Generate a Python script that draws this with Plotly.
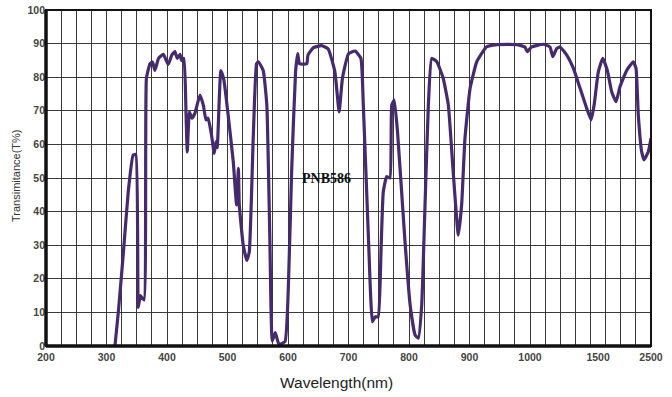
import numpy as np
import plotly.graph_objects as go

# ---- data ----
wavelength_nm = [314, 320, 328, 336, 344, 348.5, 352.5, 356, 362, 366, 372, 376, 380, 386, 394,
                 402, 408, 413, 417, 421.5, 424, 428, 431.5, 433.5, 437, 441, 446, 454.5, 460,
                 464.5, 468, 474, 478, 481, 483, 489, 494, 501, 509.5, 515, 518, 519.5, 526, 532,
                 536, 542.5, 548, 551, 559, 565, 570, 574, 579, 585, 595, 600.5, 606, 612.5, 616,
                 619, 631, 633, 642, 655.5, 666.5, 677.5, 684.5, 690, 700, 711, 720.5, 724.5, 733,
                 739.5, 744, 749, 754, 757.5, 763, 768.5, 771.5, 775.5, 781, 793, 802, 810, 815.5,
                 821, 826.5, 832, 837.5, 846, 856.5, 865, 873, 881.5, 887, 892.5, 901, 912, 928,
                 945, 978, 991.5, 995.5, 1012, 1098, 1147, 1167, 1196, 1220, 1270, 1319, 1368,
                 1417, 1449, 1471, 1505, 1589, 1675, 1757, 1840, 1915, 2040, 2166, 2217, 2260,
                 2324, 2368, 2449, 2500]
transmittance = [0, 11, 28, 46, 56.8, 57, 11.5, 15, 13.7, 79.7, 84, 84.5, 82, 85.6, 86.8,
                 83.8, 86.6, 87.6, 85.6, 86.8, 85, 85.6, 68.8, 57.8, 69.7, 67.8, 69.2, 74.7, 71.7,
                 67.3, 67.8, 62.3, 57.3, 60.8, 59, 82, 79.2, 68.8, 54.9, 42, 52.9, 42, 30, 25.5,
                 28, 61.8, 84, 84.6, 82, 71.7, 32, 1.5, 4, 0.5, 1.3, 17, 51.9, 81.6, 87,
                 84, 84, 86.6, 88.8, 89.4, 88.4, 81.6, 69.7, 79.7, 87, 87.8, 85.6, 71.7, 32,
                 7.2, 8.7, 8.7, 30, 45.9, 50.4, 50, 71.7, 73.2, 63.8, 32, 12, 3.3, 2.3,
                 12.2, 42, 71.7, 85.6, 84.6, 79.7, 71.7, 51.9, 33, 42, 61.8, 76.7, 84.6, 89,
                 89.7, 89.7, 89, 87.6, 89, 89.8, 89, 86.1, 88.5, 89, 86.6, 82.6, 76.7,
                 70.7, 67.3, 71.7, 81.6, 85.6, 82, 75.7, 72.7, 77.2, 82, 84.6, 82.6, 68.8,
                 57.8, 55.4, 57.8, 61.8]

x_tick_values_nm = [200, 300, 400, 500, 600, 700, 800, 900, 1000, 1500, 2500]
x_tick_labels = ["200", "300", "400", "500", "600", "700", "800", "900", "1000", "1500", "2500"]
y_tick_values = list(range(0, 101, 10))

# piecewise-linear wavelength scale of the printed chart (grid-cell units)
scale_nm = [200, 1000, 1500, 2500]
scale_pos = [0, 32, 36.5, 40]


def to_axis(nm):
    return np.interp(nm, scale_nm, scale_pos)


fig = go.Figure()
fig.add_trace(go.Scatter(
    x=to_axis(wavelength_nm), y=transmittance, mode="lines",
    line=dict(color="#452a6e", width=3.2, shape="spline", smoothing=0.4),
    hoverinfo="skip", showlegend=False, xaxis="x2"))
# invisible trace to keep the grid axis active
fig.add_trace(go.Scatter(x=[0, 40], y=[0, 0], mode="lines", line=dict(width=0),
                         hoverinfo="skip", showlegend=False, opacity=0))

gridc = "#3a3a3a"
tickfont = dict(family="Liberation Sans, Arial", size=10.5, color="#444", weight="bold")

fig.update_layout(
    width=672, height=397,
    margin=dict(l=46, r=21, t=10, b=51, autoexpand=False),
    paper_bgcolor="white", plot_bgcolor="white",
    xaxis=dict(range=[0, 40], tickvals=list(range(41)), showticklabels=False,
               showgrid=True, gridcolor=gridc, gridwidth=1, zeroline=False, ticks="",
               automargin=False),
    xaxis2=dict(range=[0, 40], overlaying="x", anchor="y", side="bottom",
                tickvals=list(to_axis(x_tick_values_nm)), ticktext=x_tick_labels,
                showgrid=False, zeroline=False, ticks="", tickfont=tickfont,
                automargin=False, ticklabelstandoff=3),
    yaxis=dict(range=[0, 100], tickvals=y_tick_values, showgrid=True, gridcolor=gridc,
               gridwidth=1.3, zeroline=False, ticks="", tickfont=tickfont,
               automargin=False),
    shapes=[
        dict(type="rect", xref="paper", yref="paper", x0=0, x1=1, y0=0, y1=1,
             line=dict(color="#111", width=2)),
        dict(type="line", xref="paper", yref="paper", x0=0, x1=0, y0=0, y1=1,
             line=dict(color="#111", width=3.5)),
        dict(type="line", xref="paper", yref="paper", x0=0, x1=1, y0=0, y1=0,
             line=dict(color="#111", width=3.5)),
    ],
    annotations=[
        dict(text="PNB586", x=to_axis(663), y=50, xref="x", yref="y", showarrow=False,
             font=dict(family="Liberation Serif, Times New Roman", size=14, color="#111",
                       weight="bold")),
        dict(text="Wavelength(nm)", x=(336 - 46) / 605, y=(346 - 382) / 336,
             xref="paper", yref="paper", showarrow=False, yanchor="middle",
             font=dict(family="Liberation Sans, Arial", size=15.5, color="#222")),
        dict(text="Transimitance(T%)", x=(16 - 46) / 605, y=(346 - 176) / 336,
             xref="paper", yref="paper", showarrow=False, textangle=-90,
             xanchor="center", yanchor="middle",
             font=dict(family="Liberation Sans, Arial", size=11, color="#333")),
    ],
)

# remove the default 8px page margin so the figure sits at the window's corner
fig.write_html("out.html", config={"displayModeBar": False},
               post_script="document.body.style.margin='0px';")
